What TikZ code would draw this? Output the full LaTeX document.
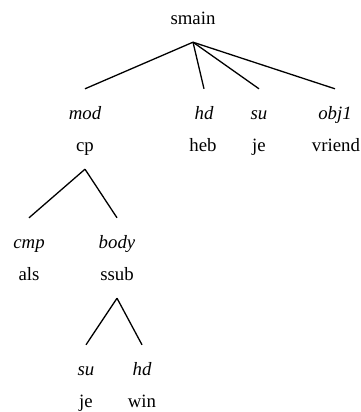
\documentclass[tikz,border=0pt]{standalone}
\usepackage{fontspec}
\setmainfont{Liberation Serif}
\usetikzlibrary{positioning}

\begin{document}
\begin{tikzpicture}[
  x=1pt, y=-1pt,
  every node/.style={font=\fontsize{18.8}{22}\selectfont, inner sep=0pt,
    text height=0.7em, text depth=0.25em},
  cat/.style={minimum height=40pt},
  rel/.style={minimum height=56pt, font=\fontsize{18.8}{22}\selectfont\itshape},
  edge/.style={draw=black, line width=1.3pt}
]
\useasboundingbox (0,0) rectangle (361,412);

% - top clause -
\node[cat] (smain) at (193,22) {smain};

\node[rel] (mod) at (85,117) {mod};
\node[cat] (cp) at (85,149) {cp};
\node[rel] (hd) at (204,117) {hd};
\node[cat] (heb) at (203,149) {heb};
\node[rel] (su) at (259,117) {su};
\node[cat] (je) at (259,149) {je};
\node[rel] (obj1) at (335,117) {obj1};
\node[cat] (vriend) at (336,149) {vriend};

% - complementizer phrase -
\node[rel] (cmp) at (29,246) {cmp};
\node[cat] (als) at (29,278) {als};
\node[rel] (body) at (117,246) {body};
\node[cat] (ssub) at (117,278) {ssub};

% - subordinate clause -
\node[rel] (susub) at (86,373) {su};
\node[cat] (jesub) at (86,405) {je};
\node[rel] (hdsub) at (142,373) {hd};
\node[cat] (win) at (142,405) {win};

\draw[edge] (smain.south) -- (mod.north);
\draw[edge] (smain.south) -- (hd.north);
\draw[edge] (smain.south) -- (su.north);
\draw[edge] (smain.south) -- (obj1.north);

\draw[edge] (cp.south) -- (cmp.north);
\draw[edge] (cp.south) -- (body.north);

\draw[edge] (ssub.south) -- (susub.north);
\draw[edge] (ssub.south) -- (hdsub.north);

\end{tikzpicture}
\end{document}
